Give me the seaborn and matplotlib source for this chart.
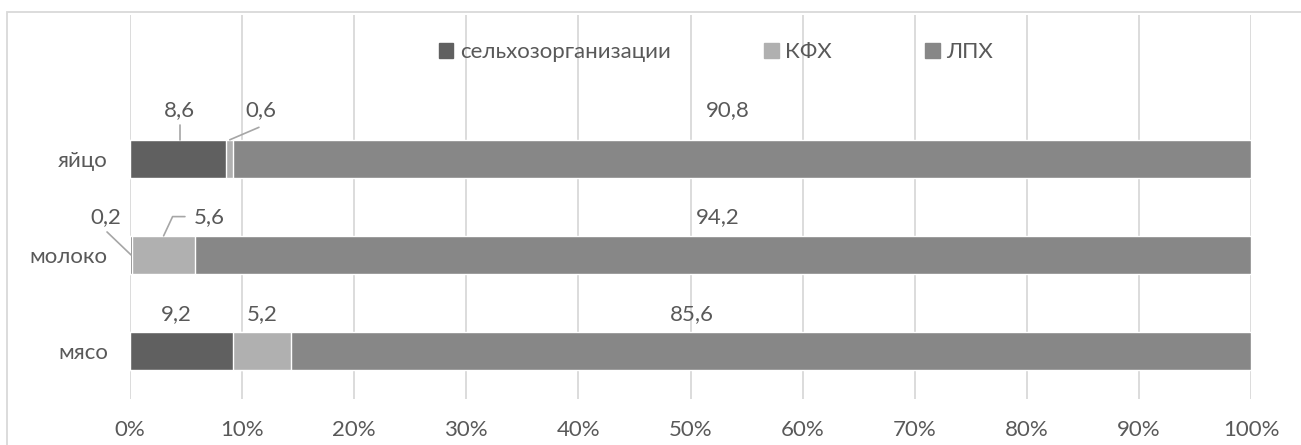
import matplotlib
matplotlib.use("Agg")
import matplotlib.pyplot as plt
import seaborn as sns
import pandas as pd
import numpy as np
from matplotlib.patches import Rectangle

categories = ["яйцо", "молоко", "мясо"]
selhoz = [8.6, 0.2, 9.2]
kfh = [0.6, 5.6, 5.2]
lph = [90.8, 94.2, 85.6]
series_names = ["сельхозорганизации", "КФХ", "ЛПХ"]
x_ticks = [0, 10, 20, 30, 40, 50, 60, 70, 80, 90, 100]

colors = {"сельхозорганизации": "#606060", "КФХ": "#b0b0b0", "ЛПХ": "#878787"}
text_color = "#595959"
fs = 16

sns.set_theme(style="white")
plt.rcParams['font.family'] = ['Lato', 'DejaVu Sans']

df = pd.DataFrame({"cat": categories, "s": selhoz, "k": kfh, "l": lph})
df["c1"] = df["s"]
df["c2"] = df["s"] + df["k"]
df["c3"] = df["s"] + df["k"] + df["l"]

fig = plt.figure(figsize=(13.01, 4.45), dpi=100)
ax = fig.add_axes([130 / 1301, 1 - 399 / 445, (1251 - 130) / 1301, (399 - 15) / 445])

# stacked bars drawn from the total down
sns.barplot(data=df, y="cat", x="c3", order=categories, color=colors["ЛПХ"],
            width=0.4, ax=ax, saturation=1, zorder=3)
sns.barplot(data=df, y="cat", x="c2", order=categories, color=colors["КФХ"],
            width=0.4, ax=ax, saturation=1, zorder=3)
sns.barplot(data=df, y="cat", x="c1", order=categories, color=colors["сельхозорганизации"],
            width=0.4, ax=ax, saturation=1, zorder=3)
if ax.get_legend() is not None:
    ax.get_legend().remove()

ax.set_xlim(0, 100)
ax.set_ylim(2.5, -1.5)
ax.set_xticks(x_ticks)
ax.set_xticklabels([f"{t}%" for t in x_ticks])
ax.set_xlabel("")
ax.set_ylabel("")
ax.grid(axis="x", color="#d9d9d9", linewidth=1.3, zorder=0)
ax.grid(axis="y", visible=False)
for sp in ax.spines.values():
    sp.set_visible(False)
ax.tick_params(axis="x", length=0, pad=15, labelsize=fs, labelcolor=text_color)
ax.tick_params(axis="y", length=0, pad=16, labelsize=fs, labelcolor=text_color)

# data labels (positions derived from segment centres with small manual offsets)
label_dx = {("яйцо", 0): 0.15, ("яйцо", 1): 2.8, ("яйцо", 2): -1.3,
            ("молоко", 0): -2.3, ("молоко", 1): 4.1, ("молоко", 2): -0.5,
            ("мясо", 0): -0.5, ("мясо", 1): 0.0, ("мясо", 2): -7.1}
label_dy = {"яйцо": -0.51, "молоко": -0.40, "мясо": -0.38}
for i, row in df.iterrows():
    vals = [row["s"], row["k"], row["l"]]
    starts = [0, row["c1"], row["c2"]]
    for j, v in enumerate(vals):
        cx = starts[j] + v / 2 + label_dx[(row["cat"], j)]
        ax.text(cx, i + label_dy[row["cat"]], f"{v:.1f}".replace(".", ","),
                ha="center", va="center", fontsize=fs, color=text_color, zorder=5)

# leader lines
lc = "#a6a6a6"
c = df.set_index("cat")
ax.plot([c.loc["яйцо", "s"] / 2 + 0.15] * 2, [-0.2, -0.35], color=lc, lw=1.2, zorder=4)
ax.plot([c.loc["яйцо", "c1"] + c.loc["яйцо", "k"] / 2, 11.5], [-0.2, -0.33], color=lc, lw=1.2, zorder=4)
ax.plot([-2.05, c.loc["молоко", "s"] / 2], [1 - 0.24, 1.0], color=lc, lw=1.2, zorder=4, clip_on=False)
ax.plot([3.0, 3.8, 4.9], [1 - 0.2, 1 - 0.4, 1 - 0.4], color=lc, lw=1.2, zorder=4)

# legend
handles = [Rectangle((0, 0), 1, 1, color=colors[n]) for n in series_names]
fig.legend(handles, series_names, loc="center", ncol=3,
           bbox_to_anchor=(716 / 1301, 1 - 52 / 445), frameon=False,
           fontsize=fs, labelcolor=text_color, handlelength=0.65, handleheight=0.65,
           handletextpad=0.3, columnspacing=4.2)

# outer chart frame
fig.patches.append(Rectangle((7 / 1301, -0.05), 1.1, 1 - 12 / 445 + 0.05,
                             transform=fig.transFigure, fill=False,
                             edgecolor="#d9d9d9", linewidth=1.3, zorder=0))

fig.savefig("out.png", dpi=100)
